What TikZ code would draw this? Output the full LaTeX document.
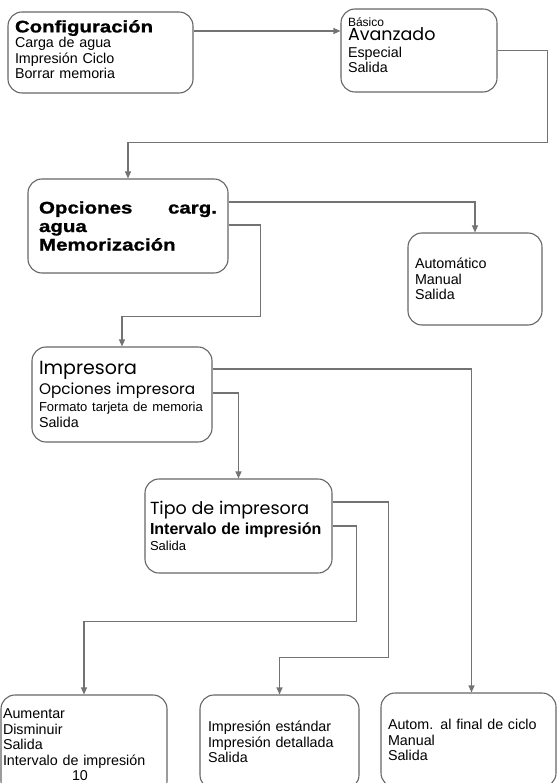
\documentclass[tikz,border=0pt]{standalone}
\usepackage{fontspec}
\setmainfont{Liberation Sans}
\newfontfamily\heavyfont[UprightFont=* Bold, FakeStretch=1.22, FakeBold=1.2]{Liberation Sans}
\newfontfamily\geofont{Poppins}
\usetikzlibrary{arrows.meta, positioning}
\setlength{\lineskiplimit}{-20pt}

\begin{document}
\begin{tikzpicture}[
  x=1pt, y=-1pt,
  %% Menu boxes
  menu/.style ={draw=black!60, line width=1.1pt, rounded corners=14pt,
                align=left, inner xsep=7pt, inner ysep=0pt,
                font=\fontsize{14.3}{15.5}\selectfont},
  %% Connectors
  link/.style ={draw=black!55, line width=1.1pt},
  arr/.style  ={link, -{Triangle[length=7pt, width=6pt]}}
]
\useasboundingbox (0,0) rectangle (558,783);

%% ── TOP ROW ─────────────────────────────────────────────────
\node[menu, text width=171pt, minimum height=81pt] (cfg) at (100.5, 52.5)
  {{\heavyfont\fontsize{16.7}{15.5}\selectfont Configuración}\\
   Carga de agua\\ Impresión Ciclo\\ Borrar memoria\rule[-6pt]{0pt}{6pt}};
\node[menu, text width=142pt, minimum height=83pt] (basico) at (419, 50.5)
  {{\fontsize{12}{15.5}\selectfont Básico}\\[-2pt]
   {\geofont\fontsize{17.5}{15.5}\selectfont Avanzado}\\[1.5pt]
   Especial\\ Salida\rule[-10pt]{0pt}{10pt}};

\draw[arr] ([yshift=21.5pt]cfg.east) -- ([yshift=21.5pt]cfg.east -| basico.west);

%% ── WATER LOADING OPTIONS ───────────────────────────────────
\node[menu, inner xsep=11pt, text width=178pt, minimum height=94pt,
      font=\heavyfont\fontsize{16.8}{18.5}\selectfont] (opc) at (128, 226)
  {Opciones\hfill carg.\\ agua\\ Memorización};
\node[menu, text width=120pt, minimum height=92pt] (auto) at (475, 279)
  {Automático\\ Manual\\ Salida};

\draw[arr] (basico.east) -- ++(50,0) |- ([yshift=36pt]opc.north) -- (opc.north);
\draw[arr] ([yshift=24pt]opc.east) -| (auto.north);

%% ── PRINTER ─────────────────────────────────────────────────
\node[menu, text width=166pt, minimum height=95pt] (impr) at (122, 394.5)
  {{\geofont\fontsize{19}{15.5}\selectfont Impresora}\\[2.5pt]
   {\geofont\fontsize{15.3}{15.5}\selectfont Opciones impresora}\\[1.5pt]
   {\fontsize{13}{15.5}\selectfont Formato tarjeta de memoria}\\ Salida};

\draw[arr] ([yshift=1pt]opc.east) -- ++(32,0) |- ([yshift=30pt]impr.north) -- (impr.north);

\node[menu, inner xsep=5pt, text width=177pt, minimum height=94pt] (tipo) at (238.5, 526)
  {{\geofont\fontsize{17.5}{15.5}\selectfont Tipo de impresora}\\[2.5pt]
   {\bfseries\fontsize{16}{15.5}\selectfont Intervalo de impresión}\\[0.5pt]
   {\fontsize{13}{15.5}\selectfont Salida}};

\draw[arr] ([yshift=1.5pt]impr.east) -| (tipo.north);

%% ── BOTTOM ROW ──────────────────────────────────────────────
\node[menu, inner xsep=2pt, text width=162pt, minimum height=100pt] (aum) at (84, 745)
  {Aumentar\\ Disminuir\\ Salida\\ Intervalo de impresión\\ \hspace*{69pt}10};
\node[menu, inner xsep=8pt, text width=143pt, minimum height=94pt] (estd) at (279.5, 742)
  {Impresión estándar\\ Impresión detallada\\ Salida};
\node[menu, text width=161pt, minimum height=94pt] (fin) at (468.5, 740)
  {Autom. al final de ciclo\\ Manual\\ Salida};

\draw[arr] ([yshift=25.5pt]impr.east) -| ([xshift=3pt]fin.north);
\draw[arr] ([yshift=24pt]tipo.east) -- ++(56,0) |- ([yshift=37pt]estd.north) -- (estd.north);
\draw[arr] (tipo.east) -- ++(24,0) |- ([yshift=73pt]aum.north) -- (aum.north);

\end{tikzpicture}
\end{document}
